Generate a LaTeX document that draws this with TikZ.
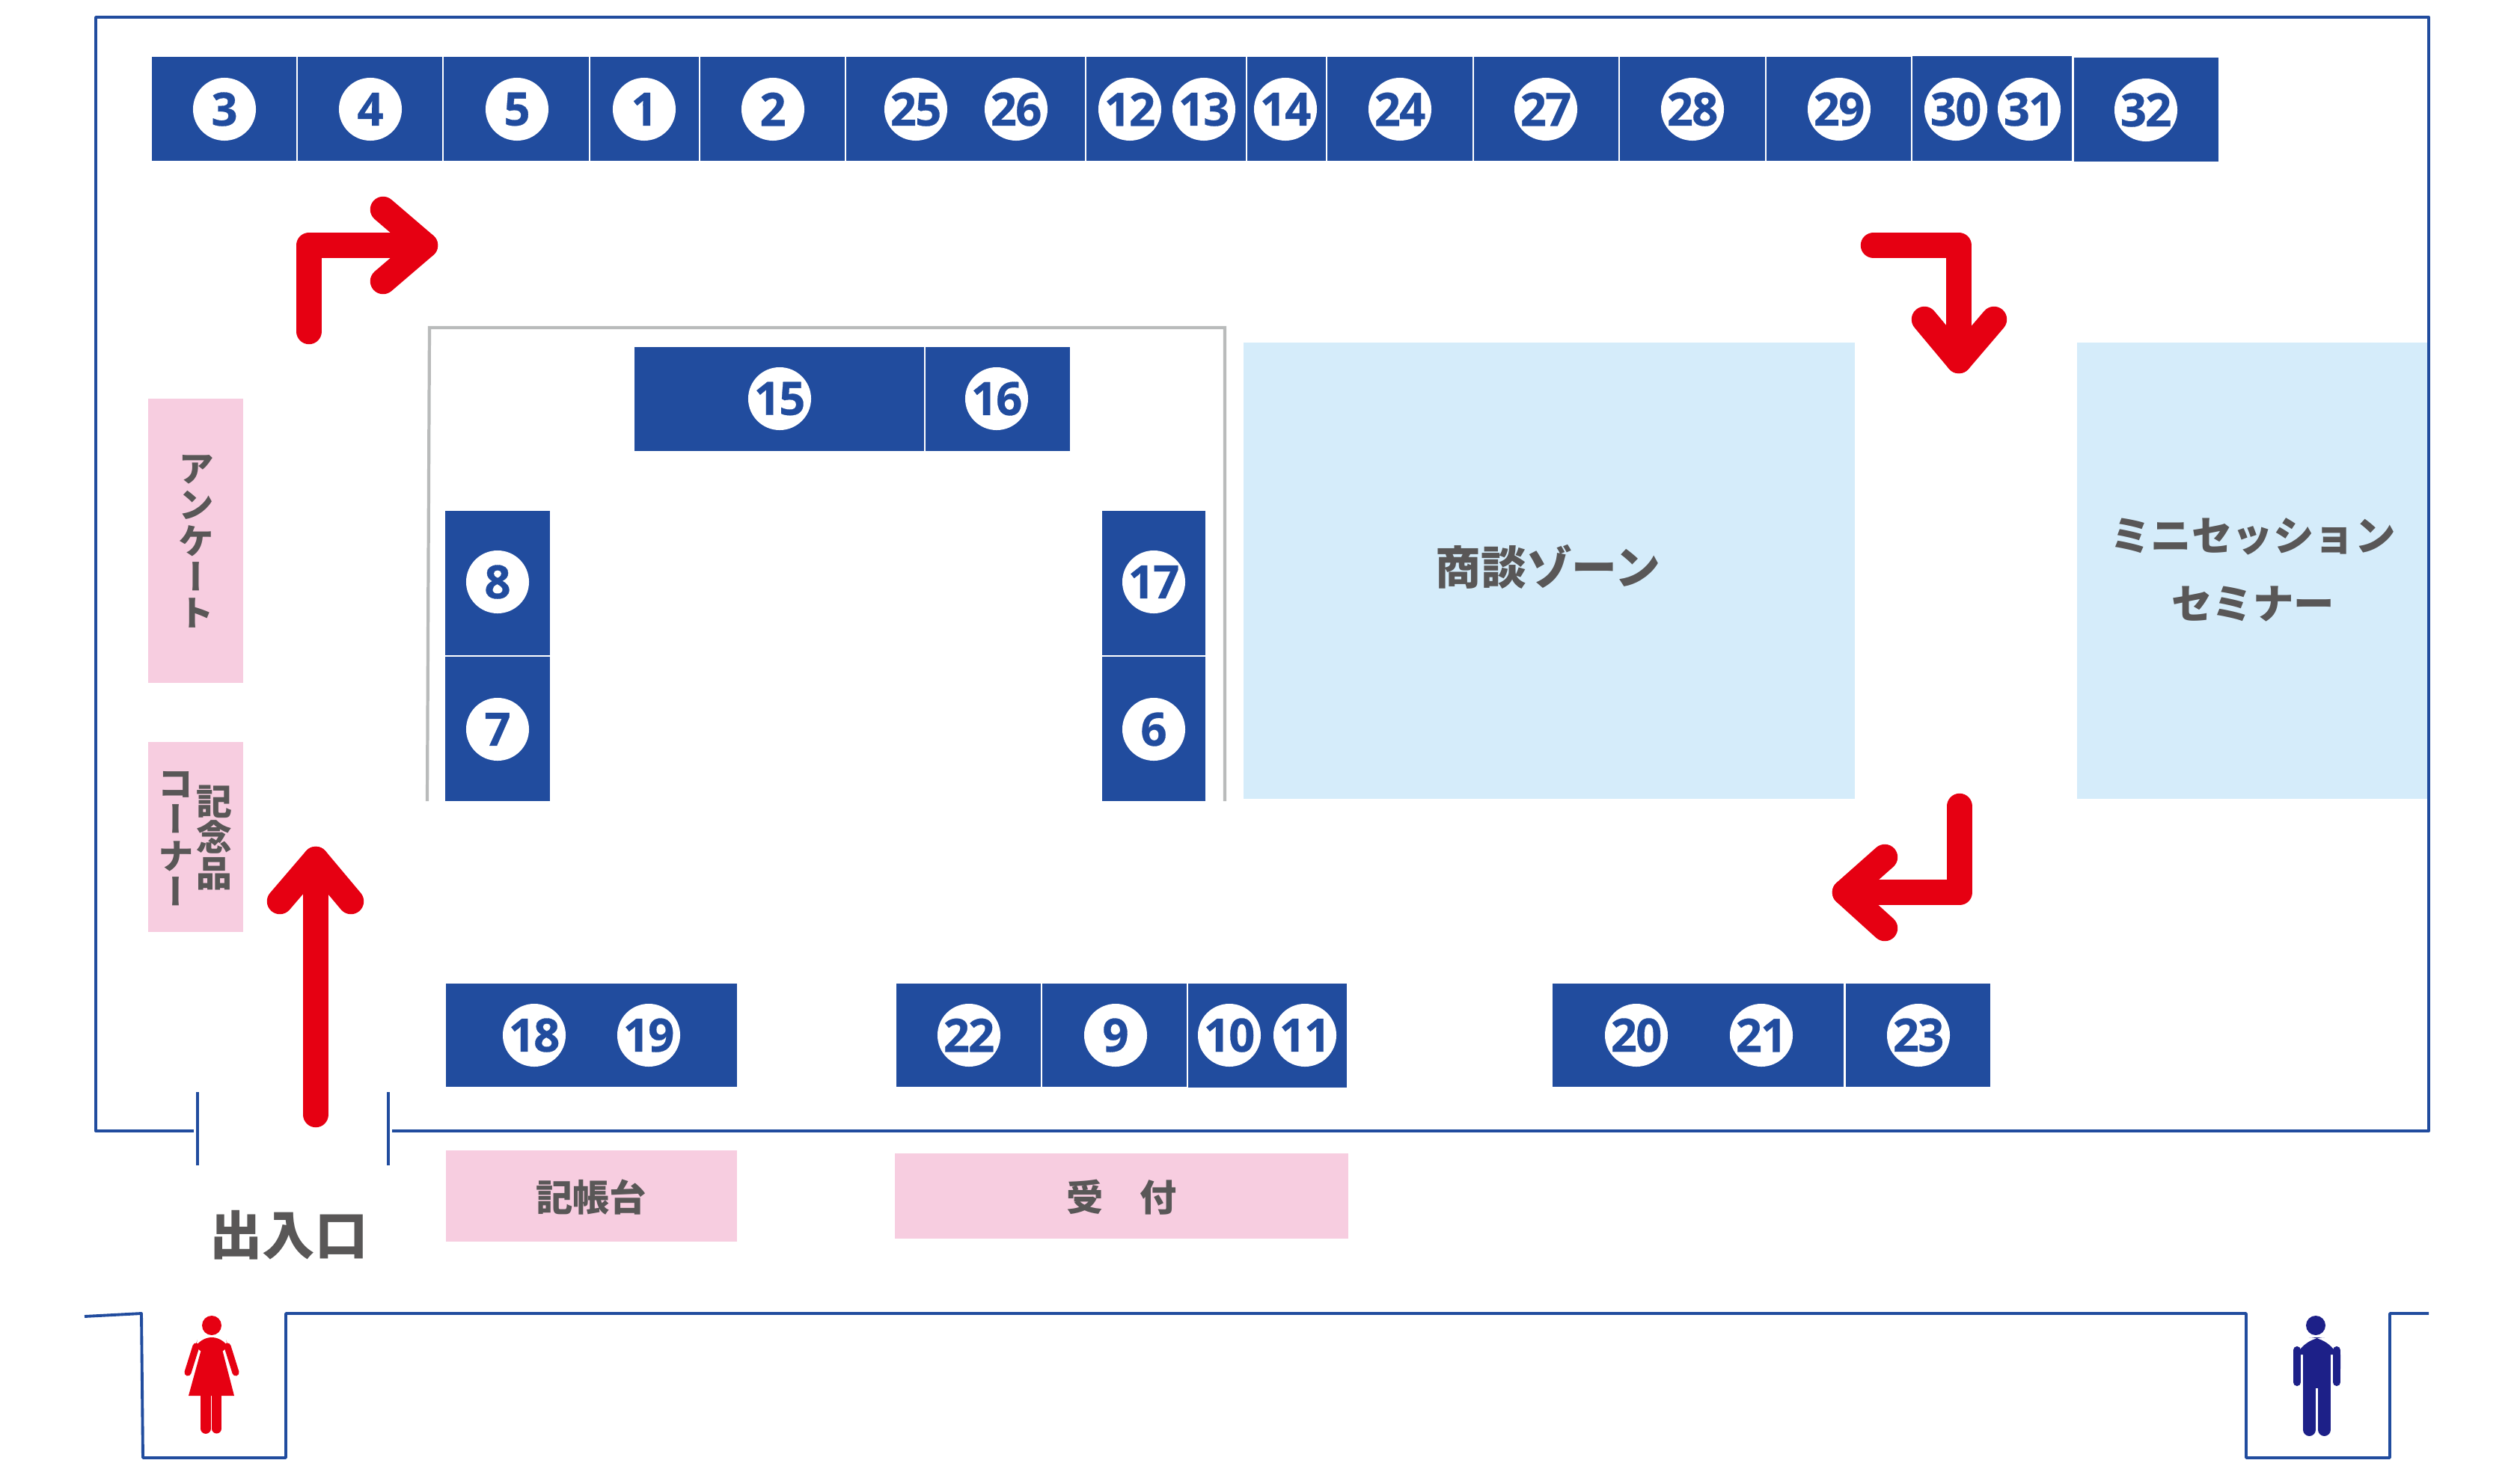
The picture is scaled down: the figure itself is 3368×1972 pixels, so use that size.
\documentclass[tikz,border=0pt]{standalone}
\usepackage{fontspec}
\usepackage{tikz}
\setsansfont{Open Sans}[LetterSpace=-3,BoldFeatures={FakeBold=0.5}]
\newfontfamily\cjk{Noto Sans CJK JP}
\newfontfamily\cjkv[Vertical=Alternates]{Noto Sans CJK JP}
\definecolor{boothblue}{HTML}{214C9E}
\definecolor{zoneblue}{HTML}{D5ECFA}
\definecolor{deskpink}{HTML}{F7CDE0}
\definecolor{textgray}{HTML}{595757}
\definecolor{routered}{HTML}{E60012}
\definecolor{framegray}{HTML}{B9BBBB}
\definecolor{mannavy}{HTML}{1D2088}
\tikzset{
	node_num/.style = {
		circle,
		fill=white,
		text=boothblue,
		inner sep=0pt,
		text centered,
		minimum size=0.84cm,
		font=\sffamily\bfseries\fontsize{17.5}{17.5}\selectfont
	},
	node_label/.style = {
		inner sep=0pt,
		align=center,
		text=textgray,
		font=\cjk\bfseries\fontsize{14}{14}\selectfont
	},
	node_zone/.style = {
		node_label,
		font=\cjk\bfseries\fontsize{17.3}{17.3}\selectfont
	},
	node_mini/.style = {
		node_label,
		font=\cjk\bfseries\fontsize{15.5}{26}\selectfont
	},
	node_door/.style = {
		node_label,
		font=\cjk\bfseries\fontsize{20}{20}\selectfont
	},
	node_vert/.style = {
		node_label,
		font=\cjkv\bfseries\fontsize{13.6}{13.7}\selectfont
	},
	booth/.style = {
		fill=boothblue
	},
	zone/.style = {
		fill=zoneblue
	},
	desk/.style = {
		fill=deskpink
	},
	wall/.style = {
		draw=boothblue,
		line width=1.1pt,
		line join=round
	},
	partition/.style = {
		draw=framegray,
		line width=1.2pt
	},
	route/.style = {
		draw=routered,
		line width=9.8pt,
		line cap=round,
		line join=round
	},
}
\begin{document}
\begin{tikzpicture}[x=0.01cm,y=-0.01cm]
\useasboundingbox (0,0) rectangle (3368,1972);
\draw [wall] (259,1512) -- (128,1512) -- (128,23) -- (3246,23) -- (3246,1512) -- (524,1512);
\draw [wall] (264,1460) -- (264,1558);
\draw [wall] (519,1460) -- (519,1558);
\draw [wall] (113,1760) -- (189,1756) -- (191,1949) -- (382,1949) -- (382,1756) -- (3002,1756) -- (3002,1949) -- (3194,1949) -- (3194,1756) -- (3246,1756);
\draw [partition] (571,1071) -- (574,438) -- (1637,438) -- (1637,1071);

\fill [booth] (203,76) rectangle (396,215);
\fill [booth] (398,76) rectangle (591,215);
\fill [booth] (593,76) rectangle (787,215);
\fill [booth] (789,76) rectangle (934,215);
\fill [booth] (936,76) rectangle (1129,215);
\fill [booth] (1131,76) rectangle (1450,215);
\fill [booth] (1452,76) rectangle (1665,215);
\fill [booth] (1667,76) rectangle (1772,215);
\fill [booth] (1774,76) rectangle (1968,215);
\fill [booth] (1970,76) rectangle (2163,215);
\fill [booth] (2165,76) rectangle (2359,215);
\fill [booth] (2361,76) rectangle (2554,215);
\fill [booth] (2556,75) rectangle (2769,215);
\fill [booth] (2772,77) rectangle (2965,216);
\fill [booth] (848,464) rectangle (1235,603);
\fill [booth] (1237,464) rectangle (1430,603);
\fill [booth] (595,683) rectangle (735,876);
\fill [booth] (595,878) rectangle (735,1071);
\fill [booth] (1473,683) rectangle (1611,876);
\fill [booth] (1473,878) rectangle (1611,1071);
\fill [booth] (596,1315) rectangle (985,1453);
\fill [booth] (1198,1315) rectangle (1391,1453);
\fill [booth] (1393,1315) rectangle (1586,1453);
\fill [booth] (1588,1315) rectangle (1800,1454);
\fill [booth] (2075,1315) rectangle (2464,1453);
\fill [booth] (2467,1315) rectangle (2660,1453);

\fill [zone] (1662,458) rectangle (2479,1068);
\fill [zone] (2776,458) rectangle (3244,1068);
\fill [desk] (198,533) rectangle (325,913);
\fill [desk] (198,992) rectangle (325,1246);
\fill [desk] (596,1538) rectangle (985,1660);
\fill [desk] (1196,1542) rectangle (1802,1656);

\node [node_num] (n3) at (300,146) {3};
\node [node_num] (n4) at (495,146) {4};
\node [node_num] (n5) at (691,146) {5};
\node [node_num] (n1) at (861,146) {1};
\node [node_num] (n2) at (1033,146) {2};
\node [node_num] (n25) at (1224,146) {25};
\node [node_num] (n26) at (1358,146) {26};
\node [node_num] (n12) at (1510,146) {12};
\node [node_num] (n13) at (1609,146) {13};
\node [node_num] (n14) at (1718,146) {14};
\node [node_num] (n24) at (1871,146) {24};
\node [node_num] (n27) at (2066,146) {27};
\node [node_num] (n28) at (2262,146) {28};
\node [node_num] (n29) at (2458,146) {29};
\node [node_num] (n30) at (2614,146) {30};
\node [node_num] (n31) at (2712,146) {31};
\node [node_num] (n32) at (2868,147) {32};
\node [node_num] (n15) at (1042,533) {15};
\node [node_num] (n16) at (1332,533) {16};
\node [node_num] (n8) at (665,778) {8};
\node [node_num] (n7) at (665,975) {7};
\node [node_num] (n17) at (1542,778) {17};
\node [node_num] (n6) at (1542,975) {6};
\node [node_num] (n18) at (714,1384) {18};
\node [node_num] (n19) at (867,1384) {19};
\node [node_num] (n22) at (1295,1384) {22};
\node [node_num] (n9) at (1491,1384) {9};
\node [node_num] (n10) at (1643,1384) {10};
\node [node_num] (n11) at (1744,1384) {11};
\node [node_num] (n20) at (2187,1384) {20};
\node [node_num] (n21) at (2354,1384) {21};
\node [node_num] (n23) at (2564,1384) {23};

\node [node_zone] (deal) at (2069,758) {商談ゾーン};
\node [node_mini] (mini) at (3011,762) {ミニセッション\\セミナー};
\node [node_vert] (survey) at (262,724) {ア\\ン\\ケ\\ー\\ト};
\node [node_vert] (gift) at (286,1120) {記\\念\\品};
\node [node_vert] (corner) at (235,1121) {コ\\ー\\ナ\\ー};
\node [node_label] (sign) at (790,1601) {記帳台};
\node [node_label] (recept) at (1499,1601) {受　付};
\node [node_door] (door) at (386,1651) {出入口};

\draw [route] (422,1490) -- (422,1149);
\draw [route] (374,1205) -- (422,1149) -- (469,1205);
\draw [route] (413,443) -- (413,328) -- (568,328);
\draw [route] (512,280) -- (568,328) -- (512,376);
\draw [route] (2504,328) -- (2618,328) -- (2618,482);
\draw [route] (2572,427) -- (2618,482) -- (2665,427);
\draw [route] (2619,1078) -- (2619,1193) -- (2466,1193);
\draw [route] (2519,1146) -- (2466,1193) -- (2519,1241);

\fill [routered] (283,1772) circle (13);
\draw [routered, line width=2.6pt, line cap=round] (262,1800) -- (251,1835);
\draw [routered, line width=2.6pt, line cap=round] (304,1800) -- (315,1835);
\fill [routered, rounded corners=5] (258,1808) -- (265,1788) -- (301,1788) -- (308,1808) -- cycle;
\fill [routered] (269,1804) -- (297,1804) -- (313,1866) -- (252,1866) -- cycle;
\draw [routered, line width=3.9pt, line cap=round] (275,1860) -- (275,1910);
\draw [routered, line width=3.7pt, line cap=round] (289.5,1860) -- (289.5,1910);

\fill [mannavy] (3095,1772) circle (13);
\fill [mannavy] (3065,1811) [rounded corners=12] -- (3065,1788) -- (3128,1788) [sharp corners] -- (3128,1811) -- cycle;
\draw [mannavy, line width=2.9pt, line cap=round] (3070,1805) -- (3070,1848);
\draw [mannavy, line width=2.9pt, line cap=round] (3123,1805) -- (3123,1848);
\fill [mannavy] (3078,1800) rectangle (3115,1856);
\draw [mannavy, line width=4.8pt, line cap=round] (3086.5,1850) -- (3086.5,1911.5);
\draw [mannavy, line width=4.8pt, line cap=round] (3106.5,1850) -- (3106.5,1911.5);
\end{tikzpicture}
\end{document}
